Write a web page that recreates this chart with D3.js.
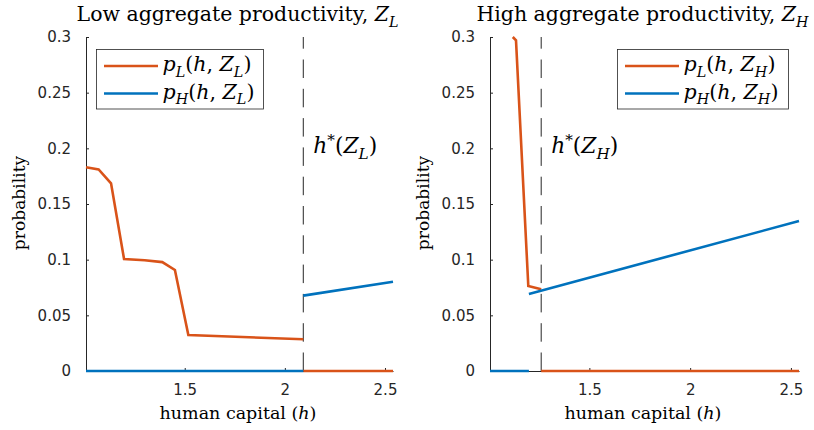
<!DOCTYPE html>
<html lang="en">
<head>
<meta charset="UTF-8">
<title>Probabilities by human capital</title>
<script src="https://cdnjs.cloudflare.com/ajax/libs/d3/7.8.5/d3.min.js"></script>
<style>
  body { margin: 0; background: #fff; }
  svg { display: block; }
  .tick text { font-family: "DejaVu Sans", sans-serif; font-size: 15px; fill: #262626; }
  .tick line, .domain { stroke: #262626; }
  .serif { font-family: "DejaVu Serif", "Liberation Serif", serif; fill: #000; }
</style>
</head>
<body>
<svg id="main" width="814" height="430"></svg>
<script>
"use strict";

// values
const xTicks = [1.5, 2, 2.5];
const yTicks = [0, 0.05, 0.1, 0.15, 0.2, 0.25, 0.3];

// low aggregate productivity
const lowH   = [1.007, 1.070, 1.132, 1.197, 1.30, 1.388, 1.451, 1.518, 2.092, null, 2.092, 2.54];
const lowPL  = [0.183, 0.181, 0.1686, 0.1006, 0.0995, 0.0978, 0.0907, 0.0323, 0.0285, null, 0, 0];
const lowHB  = [1.007, 2.092, null, 2.092, 2.54];
const lowPH  = [0, 0, null, 0.0677, 0.0802];
const lowCut = 2.092;

// high aggregate productivity
const highH   = [1.120, 1.136, 1.197, 1.261, null, 1.261, 2.54];
const highPL  = [0.300, 0.297, 0.0763, 0.0735, null, 0, 0];
const highHB  = [1.007, 1.200, null, 1.200, 2.54];
const highPH  = [0, 0, null, 0.0692, 0.1347];
const highCut = 1.261;

const xDomain = [1.007, 2.54];
const yDomain = [0, 0.3];

const red = "#D95319", blue = "#0072BD";
const plotTop = 37, plotBottom = 371;

const svg = d3.select("#main");

// tiny latex-ish text: parts are [string, kind], kind r=roman i=italic s=sub u=sup
function addMath(g, parts, size) {
    const t = g.append("text").attr("class", "serif").style("font-size", size + "px");
    let shift = 0;
    parts.forEach(([str, kind]) => {
        const ts = t.append("tspan").text(str);
        let off = 0;
        if (kind === "s") off = size * 0.28;
        if (kind === "u") off = -size * 0.38;
        ts.attr("dy", off - shift);
        shift = off;
        if (kind === "i" || kind === "s") ts.style("font-style", "italic");
        if (kind === "s" || kind === "u") ts.style("font-size", (size * 0.7) + "px");
    });
    return t;
}

// pick a font size so the text comes out about as wide as in the original
function sizeFor(parts, width) {
    const t = addMath(svg, parts, 20);
    const w = t.node().getBBox().width;
    t.remove();
    return 20 * width / w;
}

const legendParts = z => [["p", "i"], ["L", "s"], ["(", "r"], ["h", "i"], [", ", "r"], ["Z", "i"], [z, "s"], [")", "r"]];
const titleSize  = sizeFor([["Low aggregate productivity, ", "r"], ["Z", "i"], ["L", "s"]], 322);
const xlabSize   = sizeFor([["human capital (", "r"], ["h", "i"], [")", "r"]], 157);
const ylabSize   = sizeFor([["probability", "r"]], 95);
const legendSize = sizeFor(legendParts("L"), 89);
const cutSize    = sizeFor([["h", "i"], ["*", "u"], ["(", "r"], ["Z", "i"], ["L", "s"], [")", "r"]], 64);

function pairs(hs, ps) { return hs.map((h, i) => [h, ps[i]]); }

function drawPanel(cfg) {
    const x = d3.scaleLinear().domain(xDomain).range([cfg.left, cfg.right]);
    const y = d3.scaleLinear().domain(yDomain).range([plotBottom, plotTop]);
    const g = svg.append("g");

    g.append("g")
        .attr("transform", "translate(0," + plotBottom + ")")
        .call(d3.axisBottom(x).tickValues(xTicks).tickSize(-3).tickSizeOuter(0).tickPadding(13)
            .tickFormat(d => String(d)));

    g.append("g")
        .attr("transform", "translate(" + cfg.left + ",0)")
        .call(d3.axisLeft(y).tickValues(yTicks).tickSize(-3).tickSizeOuter(0).tickPadding(15)
            .tickFormat(d => String(d)));

    g.selectAll(".domain").attr("stroke-width", 1);

    // cutoff h*
    g.append("line")
        .attr("x1", x(cfg.cut)).attr("x2", x(cfg.cut))
        .attr("y1", y(0)).attr("y2", y(0.3))
        .attr("stroke", "#262626").attr("stroke-width", 1)
        .attr("stroke-dasharray", "18.5,10.8");

    const line = d3.line()
        .defined(d => d[0] !== null && d[1] !== null)
        .x(d => x(d[0])).y(d => y(d[1]));

    g.append("path").datum(pairs(cfg.hL, cfg.pL))
        .attr("d", line).attr("fill", "none").attr("stroke", red).attr("stroke-width", 2.6);
    g.append("path").datum(pairs(cfg.hH, cfg.pH))
        .attr("d", line).attr("fill", "none").attr("stroke", blue).attr("stroke-width", 2.6);

    const cx = (cfg.left + cfg.right) / 2;

    addMath(g, [[cfg.title, "r"], ["Z", "i"], [cfg.z, "s"]], titleSize)
        .attr("x", cx - 2).attr("y", 21).attr("text-anchor", "middle");

    addMath(g, [["human capital (", "r"], ["h", "i"], [")", "r"]], xlabSize)
        .attr("x", cx - 1.5).attr("y", 419).attr("text-anchor", "middle");

    g.append("text").attr("class", "serif").style("font-size", ylabSize + "px")
        .attr("transform", "translate(" + (cfg.left - 61) + ",203) rotate(-90)")
        .attr("text-anchor", "middle")
        .text("probability");

    addMath(g, [["h", "i"], ["*", "u"], ["(", "r"], ["Z", "i"], [cfg.z, "s"], [")", "r"]], cutSize)
        .attr("x", x(cfg.cut) + 10).attr("y", 153);

    // legend
    const lg = g.append("g").attr("transform", "translate(" + cfg.legX + ",49.5)");
    lg.append("rect").attr("width", cfg.legW).attr("height", 59.5)
        .attr("fill", "#fff").attr("stroke", "#262626").attr("stroke-width", 0.8);
    [[red, "L", 16.5], [blue, "H", 44]].forEach(([c, k, ly]) => {
        lg.append("line").attr("x1", 7.5).attr("x2", 61.5).attr("y1", ly).attr("y2", ly)
            .attr("stroke", c).attr("stroke-width", 2.6);
        const parts = legendParts(cfg.z);
        parts[1] = [k, "s"];
        addMath(lg, parts, legendSize)
            .attr("x", 66).attr("y", ly + 5);
    });
}

drawPanel({
    left: 86, right: 393, cut: lowCut,
    hL: lowH, pL: lowPL, hH: lowHB, pH: lowPH,
    title: "Low aggregate productivity, ", z: "L",
    legX: 96.5, legW: 167
});

drawPanel({
    left: 490, right: 799, cut: highCut,
    hL: highH, pL: highPL, hH: highHB, pH: highPH,
    title: "High aggregate productivity, ", z: "H",
    legX: 617.5, legW: 171
});
</script>
</body>
</html>
